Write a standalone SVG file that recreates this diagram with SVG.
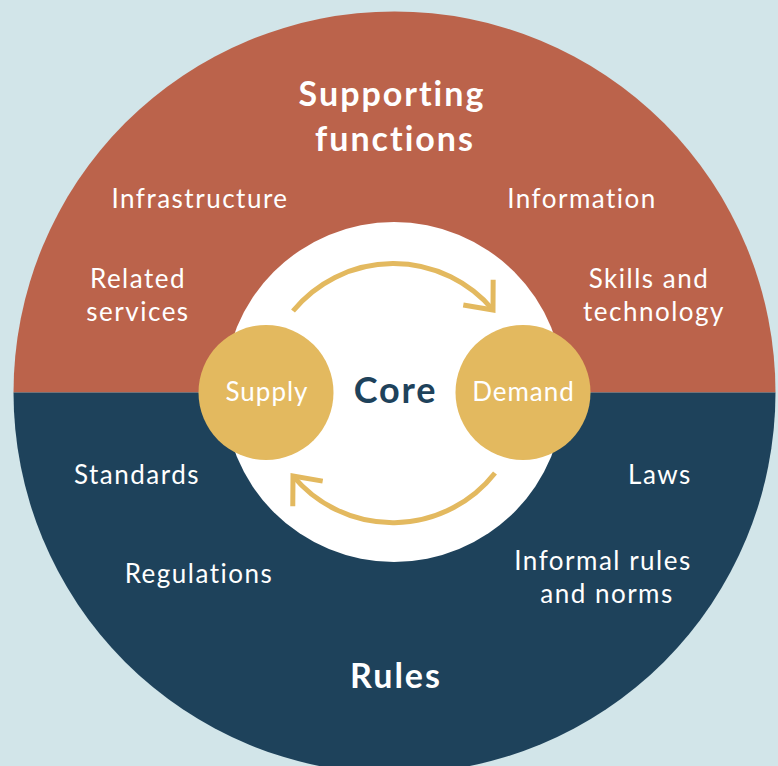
<svg xmlns="http://www.w3.org/2000/svg" width="778" height="766" viewBox="0 0 778 766">
  <style>
    .lbl { font-family: Lato, "Liberation Sans", sans-serif; font-size: 26px; fill: #ffffff; text-anchor: middle; letter-spacing: 1.5px; }
    .title { font-family: Lato, "Liberation Sans", sans-serif; font-size: 34px; font-weight: bold; fill: #ffffff; text-anchor: middle; letter-spacing: 2px; }
    .node { font-family: Lato, "Liberation Sans", sans-serif; font-size: 26px; fill: #ffffff; text-anchor: middle; letter-spacing: 1px; }
    .core { font-family: Lato, "Liberation Sans", sans-serif; font-size: 36px; font-weight: bold; fill: #1e425b; text-anchor: middle; letter-spacing: 1.8px; }
    .arc { fill: none; stroke: #e3b95f; stroke-width: 5; }
  </style>
  <defs>
    <marker id="chev" markerUnits="userSpaceOnUse" orient="auto" viewBox="-30 -25 36 50" markerWidth="36" markerHeight="50" refX="0" refY="0">
      <path d="M -23 -19.5 L 0 0 L -23 19.5" fill="none" stroke="#e3b95f" stroke-width="5"/>
    </marker>
  </defs>
  <rect width="778" height="766" fill="#d2e5e9"/>
  <g id="ring">
    <path d="M 13.5 392.5 A 381 381 0 0 1 775.5 392.5 Z" fill="#bb634b"/>
    <path d="M 13.5 392.5 A 381 381 0 0 0 775.5 392.5 Z" fill="#1e425b"/>
  </g>
  <g id="supporting-functions">
    <text class="title" x="392" y="106">Supporting</text>
    <text class="title" x="395" y="151">functions</text>
    <text class="lbl" x="200" y="208">Infrastructure</text>
    <text class="lbl" x="582" y="208">Information</text>
    <text class="lbl" x="138" y="288">Related</text>
    <text class="lbl" x="138" y="321">services</text>
    <text class="lbl" x="649" y="288">Skills and</text>
    <text class="lbl" x="654" y="321">technology</text>
  </g>
  <g id="rules">
    <text class="title" x="396" y="688">Rules</text>
    <text class="lbl" x="137" y="484">Standards</text>
    <text class="lbl" x="199" y="583">Regulations</text>
    <text class="lbl" x="660" y="484">Laws</text>
    <text class="lbl" x="603" y="570">Informal rules</text>
    <text class="lbl" x="607" y="603">and norms</text>
  </g>
  <g id="core">
    <circle cx="394" cy="392" r="170" fill="#ffffff"/>
    <text class="core" x="395.5" y="403">Core</text>
  </g>
  <g id="connectors">
    <path class="arc" d="M 293 311 A 130 130 0 0 1 493 310" marker-end="url(#chev)"/>
    <path class="arc" d="M 495 473 A 130 130 0 0 1 293 476" marker-end="url(#chev)"/>
  </g>
  <g id="supply">
    <circle cx="266" cy="392.5" r="67.5" fill="#e3b95f"/>
    <text class="node" x="267" y="401">Supply</text>
  </g>
  <g id="demand">
    <circle cx="523" cy="392.5" r="67.5" fill="#e3b95f"/>
    <text class="node" x="523.5" y="401">Demand</text>
  </g>
</svg>
